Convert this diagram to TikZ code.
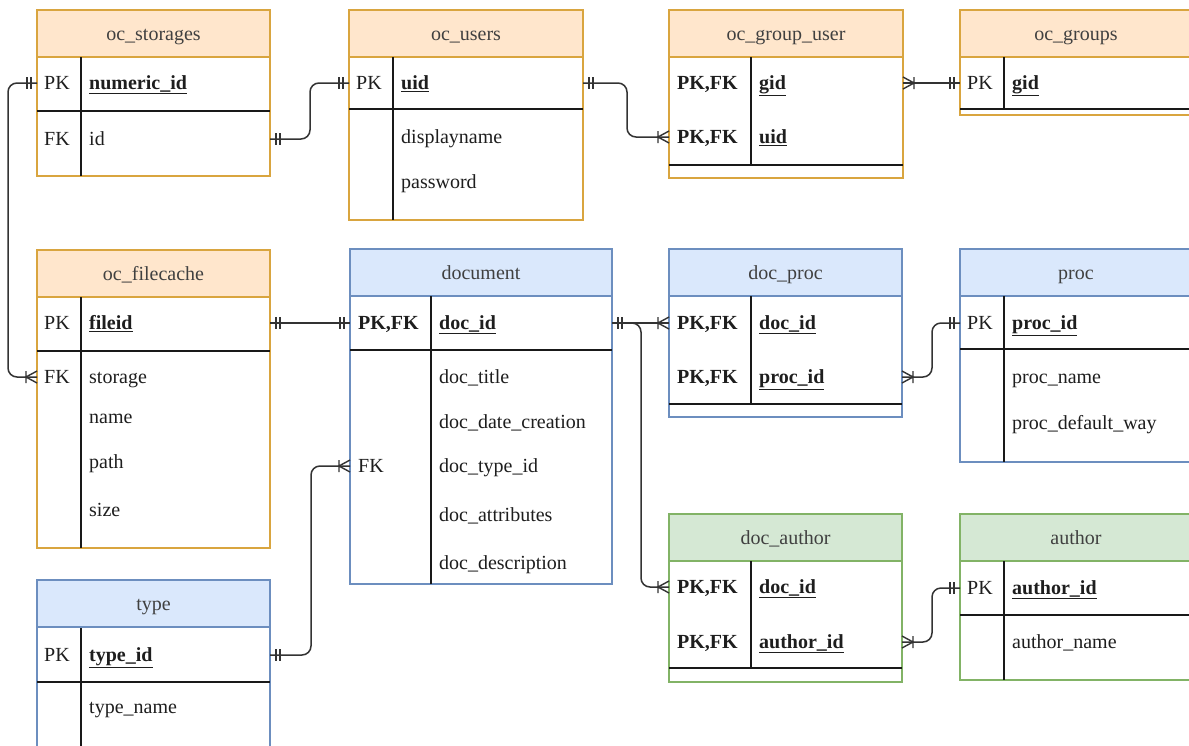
\documentclass[tikz,border=0pt]{standalone}
\usepackage{fontspec}
\setmainfont{Liberation Serif}
\newfontfamily\erfont{Liberation Serif}
\definecolor{orangeF}{HTML}{FFE6CC}
\definecolor{orangeD}{HTML}{D9A53F}
\definecolor{blueF}{HTML}{DAE8FC}
\definecolor{blueD}{HTML}{6C8EBF}
\definecolor{greenF}{HTML}{D5E8D4}
\definecolor{greenD}{HTML}{82B366}
\definecolor{txt}{HTML}{1E1E1E}
\definecolor{linec}{HTML}{333333}
\newcommand{\pkf}[1]{\textbf{\underline{#1}}}
\newcommand{\ertab}[7]{%
  \node[tbox=#2, minimum width=#5, minimum height=#6] (#1) at (#3,#4) {};
  \node[thead=#2, minimum width=#5] (#1-h) at (#3,#4) {#7};
}
\tikzset{
  tbox/.style={draw=#1D, fill=white, line width=1.3pt, anchor=north west, inner sep=0pt, outer sep=0pt},
  thead/.style={draw=#1D, fill=#1F, line width=1.3pt, anchor=north west, inner sep=0pt, outer sep=0pt,
    minimum height=47, text height=13pt, text depth=0pt, text=txt!85},
  row/.style={anchor=west, inner sep=0pt, outer sep=0pt, minimum height=20, draw=none},
  key/.style={anchor=west, inner sep=0pt, text height=13pt, text depth=0pt, text=txt},
  fld/.style={anchor=west, inner sep=0pt, text height=13pt, text depth=0pt, text=txt},
  sep/.style={line width=1.3pt, draw=black!90},
  rel/.style={line width=1.5pt, draw=linec, rounded corners=9},
  mk/.style={line width=1.4pt, draw=linec},
  pics/mone/.style={code={\draw[mk] (-6,-6)--(-6,6) (-10,-6)--(-10,6);}},
  pics/cmany/.style={code={\draw[mk] (-11,-6)--(-11,6) (0,-6)--(-11,0)--(0,6);}},
}
\begin{document}
\begin{tikzpicture}[x=1pt,y=-1pt, font=\erfont\fontsize{20}{24}\selectfont]
\useasboundingbox (0,0) rectangle (1189,745);
\clip (0,0) rectangle (1189,745);
\fill[white] (0,0) rectangle (1189,745);

% ---------- oc_storages
\ertab{st}{orange}{37}{10}{233}{166}{oc\_storages}
\node[row, minimum width=233] (st-pk) at (37,83) {};
\node[row, minimum width=233] (st-fk) at (37,139) {};
\draw[sep] (37,111) -- (270,111);
\draw[sep] (81,57) -- (81,176);
\node[key] at (44,83) {PK};
\node[fld] at (89,83) {\pkf{numeric\_id}};
\node[key] at (44,139) {FK};
\node[fld] at (89,139) {id};

% ---------- oc_users
\ertab{us}{orange}{349}{10}{234}{210}{oc\_users}
\node[row, minimum width=234] (us-pk) at (349,83) {};
\draw[sep] (349,109) -- (583,109);
\draw[sep] (393,57) -- (393,220);
\node[key] at (356,83) {PK};
\node[fld] at (401,83) {\pkf{uid}};
\node[fld] at (401,137) {displayname};
\node[fld] at (401,182) {password};

% ---------- oc_group_user
\ertab{gu}{orange}{669}{10}{234}{168}{oc\_group\_user}
\node[row, minimum width=234] (gu-gid) at (669,83) {};
\node[row, minimum width=234] (gu-uid) at (669,137) {};
\draw[sep] (669,165) -- (903,165);
\draw[sep] (751,57) -- (751,165);
\node[key] at (677,83) {\textbf{PK,FK}};
\node[fld] at (759,83) {\pkf{gid}};
\node[key] at (677,137) {\textbf{PK,FK}};
\node[fld] at (759,137) {\pkf{uid}};

% ---------- oc_groups
\ertab{gr}{orange}{960}{10}{232}{105}{oc\_groups}
\node[row, minimum width=232] (gr-pk) at (960,83) {};
\draw[sep] (960,109) -- (1192,109);
\draw[sep] (1004,57) -- (1004,109);
\node[key] at (967,83) {PK};
\node[fld] at (1012,83) {\pkf{gid}};

% ---------- oc_filecache
\ertab{fc}{orange}{37}{250}{233}{298}{oc\_filecache}
\node[row, minimum width=233] (fc-pk) at (37,323) {};
\node[row, minimum width=233] (fc-fk) at (37,377) {};
\draw[sep] (37,351) -- (270,351);
\draw[sep] (81,297) -- (81,548);
\node[key] at (44,323) {PK};
\node[fld] at (89,323) {\pkf{fileid}};
\node[key] at (44,377) {FK};
\node[fld] at (89,377) {storage};
\node[fld] at (89,417) {name};
\node[fld] at (89,462) {path};
\node[fld] at (89,510) {size};

% ---------- document
\ertab{doc}{blue}{350}{249}{262}{335}{document}
\node[row, minimum width=262] (doc-pk) at (350,323) {};
\node[row, minimum width=262] (doc-fk) at (350,466) {};
\draw[sep] (350,350) -- (612,350);
\draw[sep] (431,296) -- (431,584);
\node[key] at (358,323) {\textbf{PK,FK}};
\node[fld] at (439,323) {\pkf{doc\_id}};
\node[fld] at (439,377) {doc\_title};
\node[fld] at (439,422) {doc\_date\_creation};
\node[key] at (358,466) {FK};
\node[fld] at (439,466) {doc\_type\_id};
\node[fld] at (439,515) {doc\_attributes};
\node[fld] at (439,563) {doc\_description};

% ---------- doc_proc
\ertab{dp}{blue}{669}{249}{233}{168}{doc\_proc}
\node[row, minimum width=233] (dp-did) at (669,323) {};
\node[row, minimum width=233] (dp-pid) at (669,377) {};
\draw[sep] (669,404) -- (902,404);
\draw[sep] (751,296) -- (751,404);
\node[key] at (677,323) {\textbf{PK,FK}};
\node[fld] at (759,323) {\pkf{doc\_id}};
\node[key] at (677,377) {\textbf{PK,FK}};
\node[fld] at (759,377) {\pkf{proc\_id}};

% ---------- proc
\ertab{pr}{blue}{960}{249}{232}{213}{proc}
\node[row, minimum width=232] (pr-pk) at (960,323) {};
\draw[sep] (960,349) -- (1192,349);
\draw[sep] (1004,296) -- (1004,462);
\node[key] at (967,323) {PK};
\node[fld] at (1012,323) {\pkf{proc\_id}};
\node[fld] at (1012,377) {proc\_name};
\node[fld] at (1012,423) {proc\_default\_way};

% ---------- type
\ertab{ty}{blue}{37}{580}{233}{200}{type}
\node[row, minimum width=233] (ty-pk) at (37,655) {};
\draw[sep] (37,682) -- (270,682);
\draw[sep] (81,628) -- (81,780);
\node[key] at (44,655) {PK};
\node[fld] at (89,655) {\pkf{type\_id}};
\node[fld] at (89,707) {type\_name};

% ---------- doc_author
\ertab{da}{green}{669}{514}{233}{168}{doc\_author}
\node[row, minimum width=233] (da-did) at (669,587) {};
\node[row, minimum width=233] (da-aid) at (669,642) {};
\draw[sep] (669,668) -- (902,668);
\draw[sep] (751,561) -- (751,668);
\node[key] at (677,587) {\textbf{PK,FK}};
\node[fld] at (759,587) {\pkf{doc\_id}};
\node[key] at (677,642) {\textbf{PK,FK}};
\node[fld] at (759,642) {\pkf{author\_id}};

% ---------- author
\ertab{au}{green}{960}{514}{232}{166}{author}
\node[row, minimum width=232] (au-pk) at (960,588) {};
\draw[sep] (960,615) -- (1192,615);
\draw[sep] (1004,561) -- (1004,680);
\node[key] at (967,588) {PK};
\node[fld] at (1012,588) {\pkf{author\_id}};
\node[fld] at (1012,642) {author\_name};

% ---------- connectors
\draw[rel] (st-pk.west) -- ++(-29,0) |- (fc-fk.west);
\pic at (st-pk.west) {mone};
\pic at (fc-fk.west) {cmany};

\draw[rel] (st-fk.east) -- ++(40,0) |- (us-pk.west);
\pic[xscale=-1] at (st-fk.east) {mone};
\pic at (us-pk.west) {mone};

\draw[rel] (us-pk.east) -- ++(44,0) |- (gu-uid.west);
\pic[xscale=-1] at (us-pk.east) {mone};
\pic at (gu-uid.west) {cmany};

\draw[rel] (gu-gid.east) -- (gr-pk.west);
\pic[xscale=-1] at (gu-gid.east) {cmany};
\pic at (gr-pk.west) {mone};

\draw[rel] (fc-pk.east) -- (doc-pk.west);
\pic[xscale=-1] at (fc-pk.east) {mone};
\pic at (doc-pk.west) {mone};

\draw[rel] (ty-pk.east) -- ++(41,0) |- (doc-fk.west);
\pic[xscale=-1] at (ty-pk.east) {mone};
\pic at (doc-fk.west) {cmany};

\draw[rel] (doc-pk.east) -- (dp-did.west);
\pic[xscale=-1] at (doc-pk.east) {mone};
\pic at (dp-did.west) {cmany};

\draw[rel] (doc-pk.east) -- ++(29,0) |- (da-did.west);
\pic at (da-did.west) {cmany};

\draw[rel] (dp-pid.east) -- ++(30,0) |- (pr-pk.west);
\pic[xscale=-1] at (dp-pid.east) {cmany};
\pic at (pr-pk.west) {mone};

\draw[rel] (da-aid.east) -- ++(30,0) |- (au-pk.west);
\pic[xscale=-1] at (da-aid.east) {cmany};
\pic at (au-pk.west) {mone};
\end{tikzpicture}
\end{document}
